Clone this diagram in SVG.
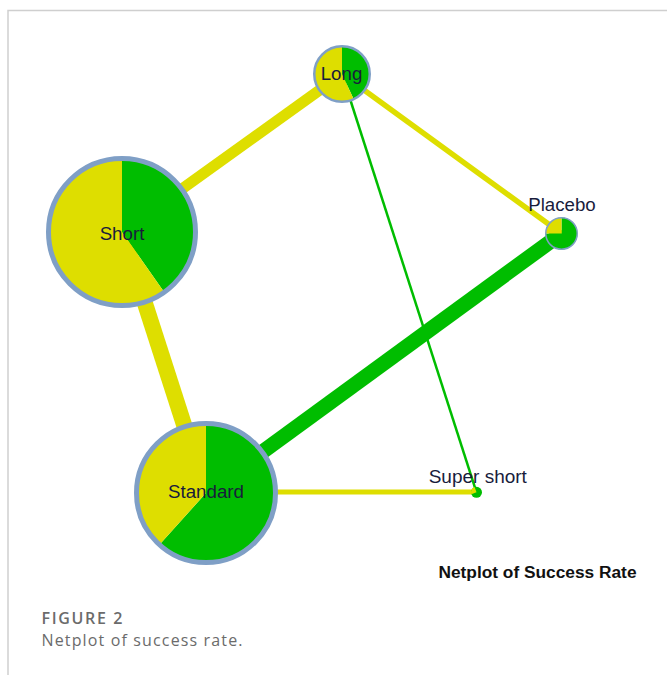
<svg xmlns="http://www.w3.org/2000/svg" width="667" height="675" viewBox="0 0 667 675">
<style>
.y{fill:#dede00}
.g{fill:#00bd00}
.ring{fill:none;stroke:#7f9fc6}
.ey{stroke:#dede00;fill:none}
.eg{stroke:#00bd00;fill:none}
.lbl{font-family:"Liberation Sans",Arial,sans-serif;font-size:18.7px;fill:#181c3c;text-anchor:middle}
.cap{font-family:"Open Sans",sans-serif;font-size:16px;fill:#6b6b6b}
</style>
<rect width="667" height="675" fill="#ffffff"/>
<path d="M8,675 V10.5 H667" fill="none" stroke="#cfcfcf" stroke-width="1.5"/>
<g id="connectors">
<line class="ey" x1="122" y1="232" x2="342" y2="74" stroke-width="11"/>
<line class="ey" x1="342" y1="74" x2="561.5" y2="233.5" stroke-width="5.5"/>
<line class="ey" x1="122" y1="232" x2="206" y2="493" stroke-width="16"/>
<line class="eg" x1="206" y1="493" x2="561.5" y2="233.5" stroke-width="15"/>
<line class="ey" x1="206" y1="492" x2="476.5" y2="492" stroke-width="5"/>
<line class="eg" x1="342" y1="74" x2="476.5" y2="492.3" stroke-width="2.5"/>
</g>
<g id="node-short">
<path class="g" d="M122,232 L122,159 A73,73 0 0 1 163.9,291.8 Z"/>
<path class="y" d="M122,232 L163.9,291.8 A73,73 0 1 1 122,159 Z"/>
<circle class="ring" cx="122" cy="232" r="73.5" stroke-width="5"/>
<text class="lbl" x="122" y="239.5">Short</text>
</g>
<g id="node-standard">
<path class="g" d="M206,493 L206,423 A70,70 0 1 1 159.2,545 Z"/>
<path class="y" d="M206,493 L159.2,545 A70,70 0 0 1 206,423 Z"/>
<circle class="ring" cx="206" cy="493" r="69.5" stroke-width="5"/>
<text class="lbl" x="206" y="498">Standard</text>
</g>
<g id="node-long">
<path class="g" d="M342,74 L342,46 A28,28 0 0 1 353.8,99.4 Z"/>
<path class="y" d="M342,74 L353.8,99.4 A28,28 0 1 1 342,46 Z"/>
<circle class="ring" cx="342" cy="74" r="27.75" stroke-width="2.5"/>
<text class="lbl" x="341.5" y="80">Long</text>
</g>
<g id="node-placebo">
<path class="g" d="M561.5,233.5 L561.5,217.5 A16,16 0 1 1 545.5,233.5 Z"/>
<path class="y" d="M561.5,233.5 L545.5,233.5 A16,16 0 0 1 561.5,217.5 Z"/>
<circle class="ring" cx="561.5" cy="233.5" r="15.75" stroke-width="1.5"/>
<text class="lbl" x="562" y="211">Placebo</text>
</g>
<g id="node-supershort">
<circle class="g" cx="476.5" cy="492.3" r="5.5"/>
<path class="y" d="M476.5,492.3 L471.3,494.2 A5.5,5.5 0 0 1 474.6,487.1 Z"/>
<text class="lbl" x="477.8" y="483.3" style="font-size:19px">Super short</text>
</g>
<text x="438.5" y="577.7" textLength="198" lengthAdjust="spacingAndGlyphs" style="font-family:'Liberation Sans',Arial,sans-serif;font-weight:bold;font-size:16px;fill:#111111">Netplot of Success Rate</text>
<text class="cap" x="41.5" y="624" textLength="81" style="font-weight:600">FIGURE 2</text>
<text class="cap" x="41.5" y="646" textLength="201">Netplot of success rate.</text>
</svg>
